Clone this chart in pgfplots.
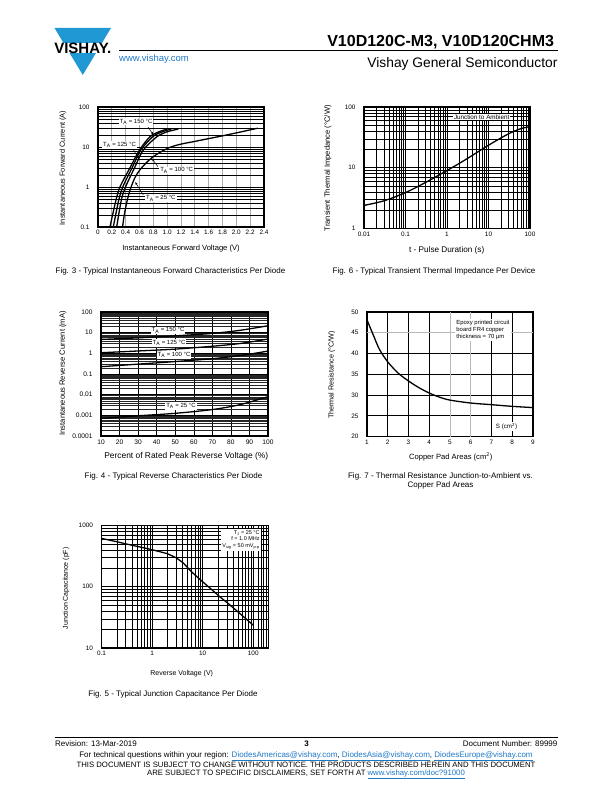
\documentclass[border=0pt]{standalone}
\usepackage{pgfplots}
\pgfplotsset{compat=1.18}
\usetikzlibrary{arrows.meta}
\usepackage{fontspec}
\setmainfont{Liberation Sans}
\definecolor{vblue}{RGB}{32,152,212}
\definecolor{lnk}{RGB}{30,120,200}
\newcommand{\fs}[2]{\fontsize{#1}{#2}\selectfont}
\pgfplotsset{
  ds/.style={
    scale only axis, anchor=south west,
    axis line style={line width=1.2pt},
    major tick length=0pt, minor tick length=0pt,
    grid=both,
    major grid style={black, line width=0.5pt},
    minor grid style={black, line width=0.4pt},
    tick label style={font=\fs{6.4}{7}},
    yticklabel style={xshift=-5pt},
    /pgf/number format/assume math mode=true,
  },
  cv/.style={black, line width=1.3pt, no marks, smooth},
}
\begin{document}
\begin{tikzpicture}[x=1pt,y=1pt]
\path[use as bounding box, fill=white] (0,0) rectangle (612,792);

% ---------- header ----------
\fill[vblue] (54.5,764) -- (111,764) -- (82.8,717) -- cycle;
\fill[white] (47,749) rectangle (118,738.5);
\node[font=\fs{15}{15}\bfseries, inner sep=0pt] at (82.8,743.8) {VISHAY.};
\node[anchor=base east, font=\fs{16}{19}\bfseries] at (557.6,745) {V10D120C-M3, V10D120CHM3};
\draw[line width=0.9pt] (119,742) -- (557.6,742);
\node[anchor=base west, font=\fs{9.5}{11}, text=lnk, inner sep=0pt] at (119,730.5) {www.vishay.com};
\node[anchor=base east, font=\fs{13.8}{16}, inner sep=0pt] at (557.6,724) {Vishay General Semiconductor};

% ---------- Fig 3 ----------
\begin{semilogyaxis}[ds, at={(98pt,565pt)}, width=166pt, height=120pt,
  xmin=0, xmax=2.4, ymin=0.1, ymax=100,
  xtick={0,0.2,0.4,0.6,0.8,1.0,1.2,1.4,1.6,1.8,2.0,2.2,2.4},
  xticklabels={0,0.2,0.4,0.6,0.8,1.0,1.2,1.4,1.6,1.8,2.0,2.2,2.4},
  ytick={0.1,1,10,100}, yticklabels={0.1,1,10,100},
  minor ytick={0.2,0.3,0.4,0.5,0.6,0.7,0.8,0.9,2,3,4,5,6,7,8,9,20,30,40,50,60,70,80,90},
  major x grid style={gray!65, line width=0.8pt},
]
\addplot[cv] coordinates {(0.165,0.08)(0.173,0.1)(0.26,0.47)(0.32,1.02)(0.47,3.2)(0.6,8.4)(0.75,18)(0.88,24)(1.0,28)};
\addplot[cv] coordinates {(0.213,0.08)(0.221,0.1)(0.30,0.47)(0.36,1.02)(0.50,3.2)(0.62,8.4)(0.79,18)(0.93,24)(1.06,28)};
\addplot[cv] coordinates {(0.262,0.08)(0.27,0.1)(0.337,0.47)(0.40,1.02)(0.535,3.2)(0.655,8.4)(0.85,18)(1.0,24)(1.16,28)};
\addplot[cv] coordinates {(0.35,0.08)(0.355,0.1)(0.38,0.2)(0.414,0.4)(0.45,0.7)(0.487,1.1)(0.54,1.8)(0.607,2.7)(0.69,3.9)(0.78,5.4)(0.9,7.4)(1.04,9.8)(1.2,11.8)(1.4,13.8)(1.6,16.2)(1.8,19)(2.05,23.5)(2.31,29.5)};
\end{semilogyaxis}
\begin{scope}[every node/.style={font=\fs{6}{7}, fill=white, inner sep=1pt}]
\node at (136,670.3) {T\textsubscript{A} = 150 °C};
\node at (119.5,647) {T\textsubscript{A} = 125 °C};
\node at (176.7,621.7) {T\textsubscript{A} = 100 °C};
\node at (160.8,593.7) {T\textsubscript{A} = 25 °C};
\end{scope}
\begin{scope}[line width=0.5pt, -{Latex[length=3pt,width=2pt]}]
\draw (148,665) -- (153.5,657);
\draw (133.5,642) -- (139.3,632.7);
\draw (158,625.3) -- (151.7,633.7);
\draw (143.3,597) -- (135,610.3);
\end{scope}
\node[font=\fs{7.6}{9}] at (181,543.5) {Instantaneous Forward Voltage (V)};
\node[font=\fs{7.4}{9}, rotate=90] at (63,624) {Instantaneous Forward Current (A)};
\node[font=\fs{8}{9}] at (170.5,521) {Fig. 3 - Typical Instantaneous Forward Characteristics Per Diode};

% ---------- Fig 6 ----------
\begin{loglogaxis}[ds, at={(364pt,563.5pt)}, width=166pt, height=121.5pt,
  xmin=0.01, xmax=100, ymin=1, ymax=100,
  xtick={0.01,0.1,1,10,100}, xticklabels={0.01,0.1,1,10,100},
  ytick={1,10,100}, yticklabels={1,10,100},
  minor xtick={0.02,0.03,0.04,0.05,0.06,0.07,0.08,0.09,0.2,0.3,0.4,0.5,0.6,0.7,0.8,0.9,2,3,4,5,6,7,8,9,20,30,40,50,60,70,80,90},
  minor ytick={2,3,4,5,6,7,8,9,20,30,40,50,60,70,80,90},
]
\addplot[cv] coordinates {(0.01,2.4)(0.03,2.85)(0.1,3.9)(0.3,5.7)(1,9)(3,14)(10,23.5)(30,36)(60,44)(100,47.5)};
\end{loglogaxis}
\node[font=\fs{6.3}{7.5}, fill=white, inner sep=1pt] at (481.7,675) {Junction to Ambient};
\node[font=\fs{8.2}{9}] at (446.7,542) {t - Pulse Duration (s)};
\node[font=\fs{7.6}{9}, rotate=90] at (328,623.7) {Transient Thermal Impedance (°C/W)};
\node[font=\fs{8}{9}] at (434,521) {Fig. 6 - Typical Transient Thermal Impedance Per Device};

% ---------- Fig 4 ----------
\begin{semilogyaxis}[ds, at={(101pt,356pt)}, width=167pt, height=124pt,
  xmin=10, xmax=100, ymin=0.0001, ymax=100,
  xtick={10,20,30,40,50,60,70,80,90,100},
  ytick={0.0001,0.001,0.01,0.1,1,10,100}, yticklabels={0.0001,0.001,0.01,0.1,1,10,100},
  minor ytick={0.0002,0.0003,0.0004,0.0005,0.0006,0.0007,0.0008,0.0009,0.002,0.003,0.004,0.005,0.006,0.007,0.008,0.009,0.02,0.03,0.04,0.05,0.06,0.07,0.08,0.09,0.2,0.3,0.4,0.5,0.6,0.7,0.8,0.9,2,3,4,5,6,7,8,9,20,30,40,50,60,70,80,90},
  minor grid style={black!85, line width=0.3pt},
  tick label style={font=\fs{6.6}{7.5}},
]
\addplot[cv] coordinates {(10,4.7)(30,5.6)(50,7)(70,9.2)(85,13)(100,21.6)};
\addplot[cv] coordinates {(10,1.07)(30,1.3)(50,1.6)(70,2.2)(85,3.0)(100,4.9)};
\addplot[cv] coordinates {(10,0.225)(30,0.3)(50,0.4)(70,0.55)(85,0.78)(100,1.28)};
\addplot[cv] coordinates {(10,0.00071)(30,0.00095)(50,0.00125)(70,0.0019)(85,0.0033)(100,0.008)};
\end{semilogyaxis}
\begin{scope}[every node/.style={font=\fs{6}{7}, fill=white, inner sep=1pt}]
\node at (168,461.5) {T\textsubscript{A} = 150 °C};
\node at (169,449) {T\textsubscript{A} = 125 °C};
\node at (174,437) {T\textsubscript{A} = 100 °C};
\node at (181,386) {T\textsubscript{A} = 25 °C};
\end{scope}
\node[font=\fs{8.4}{9}] at (186.3,335.3) {Percent of Rated Peak Reverse Voltage (\%)};
\node[font=\fs{7.6}{9}, rotate=90] at (63,418.7) {Instantaneous Reverse Current (mA)};
\node[font=\fs{8}{9}] at (173.5,316) {Fig. 4 - Typical Reverse Characteristics Per Diode};

% ---------- Fig 7 ----------
\begin{axis}[ds, at={(367pt,355.3pt)}, width=166pt, height=124.7pt,
  xmin=1, xmax=9, ymin=20, ymax=50,
  xtick={1,2,3,4,5,6,7,8,9}, ytick={20,25,30,35,40,45,50},
  grid=major, major grid style={black, line width=0.9pt},
]
\draw[gray!55, line width=1pt] (axis cs:5,20) -- (axis cs:5,50);
\draw[gray!55, line width=1pt] (axis cs:6,20) -- (axis cs:6,50);
\draw[gray!55, line width=1pt] (axis cs:1,45) -- (axis cs:9,45);
\addplot[cv] coordinates {(1,48.1)(1.3,44.5)(1.6,41)(2,38)(2.5,35.3)(3,33.4)(3.5,31.8)(4,30.5)(4.5,29.5)(5,28.8)(6,28.1)(7,27.7)(8,27.3)(9,27.0)};
\end{axis}
\node[font=\fs{5.9}{7.2}, fill=white, inner sep=1.5pt, align=left] at (483,462) {Epoxy printed circuit\\board FR4 copper\\thickness = 70 µm};
\node[font=\fs{6.2}{7.5}, fill=white, inner sep=1.5pt] at (506.5,365.5) {S (cm\textsuperscript{2})};
\node[font=\fs{7.6}{9}] at (450.7,335.3) {Copper Pad Areas (cm\textsuperscript{2})};
\node[font=\fs{7.2}{9}, rotate=90] at (331.7,417) {Thermal Resistance (°C/W)};
\node[font=\fs{8}{9.5}, align=center] at (440.5,311) {Fig. 7 - Thermal Resistance Junction-to-Ambient vs.\\Copper Pad Areas};

% ---------- Fig 5 ----------
\begin{loglogaxis}[ds, at={(101.5pt,144pt)}, width=167pt, height=122.7pt,
  xmin=0.1, xmax=200, ymin=10, ymax=1000,
  xtick={0.1,1,10,100}, xticklabels={0.1,1,10,100},
  ytick={10,100,1000}, yticklabels={10,100,1000},
  minor xtick={0.2,0.3,0.4,0.5,0.6,0.7,0.8,0.9,2,3,4,5,6,7,8,9,20,30,40,50,60,70,80,90,125,145,160,178},
  minor ytick={20,30,40,50,60,70,80,90,200,300,400,500,600,700,800,900},
]
\addplot[black, line width=1.3pt, no marks] coordinates {(0.1,612)(0.2,540)(0.33,490)(0.6,440)(1,400)(2,345)(3,295)(4.1,245)(6,175)(10,120)(15,90)(22,68)(32,53)(47,40.5)(100,23.5)};
\end{loglogaxis}
\node[font=\fs{5.5}{6.6}, fill=white, inner sep=1.5pt, align=right] at (241,252) {T\textsubscript{J} = 25 °C\\f = 1.0 MHz\\V\textsubscript{sig} = 50 mV\textsubscript{p-p}};
\node[font=\fs{7}{8}] at (181.7,118.7) {Reverse Voltage (V)};
\node[font=\fs{7}{8}, rotate=90] at (66,203.7) {Junction Capacitance (pF)};
\node[font=\fs{8}{9}] at (173,98) {Fig. 5 - Typical Junction Capacitance Per Diode};

% ---------- footer ----------
\draw[line width=0.6pt] (55,54.4) -- (557.6,54.4);
\node[anchor=base west, font=\fs{8}{9}, inner sep=0pt] at (55,45.5) {Revision: 13-Mar-2019};
\node[anchor=base, font=\fs{8}{9}\bfseries, inner sep=0pt] at (306.5,45.5) {3};
\node[anchor=base east, font=\fs{8}{9}, inner sep=0pt] at (557.6,45.5) {Document Number: 89999};
\node[anchor=base, font=\fs{8}{9}, inner sep=0pt] at (306,34.5) {For technical questions within your region: \textcolor{lnk}{\underline{DiodesAmericas@vishay.com}}, \textcolor{lnk}{\underline{DiodesAsia@vishay.com}}, \textcolor{lnk}{\underline{DiodesEurope@vishay.com}}};
\node[anchor=base, font=\fs{7.75}{9}, inner sep=0pt] at (306,24) {THIS DOCUMENT IS SUBJECT TO CHANGE WITHOUT NOTICE. THE PRODUCTS DESCRIBED HEREIN AND THIS DOCUMENT};
\node[anchor=base, font=\fs{7.75}{9}, inner sep=0pt] at (306,16.5) {ARE SUBJECT TO SPECIFIC DISCLAIMERS, SET FORTH AT \textcolor{lnk}{\underline{www.vishay.com/doc?91000}}};
\end{tikzpicture}
\end{document}
